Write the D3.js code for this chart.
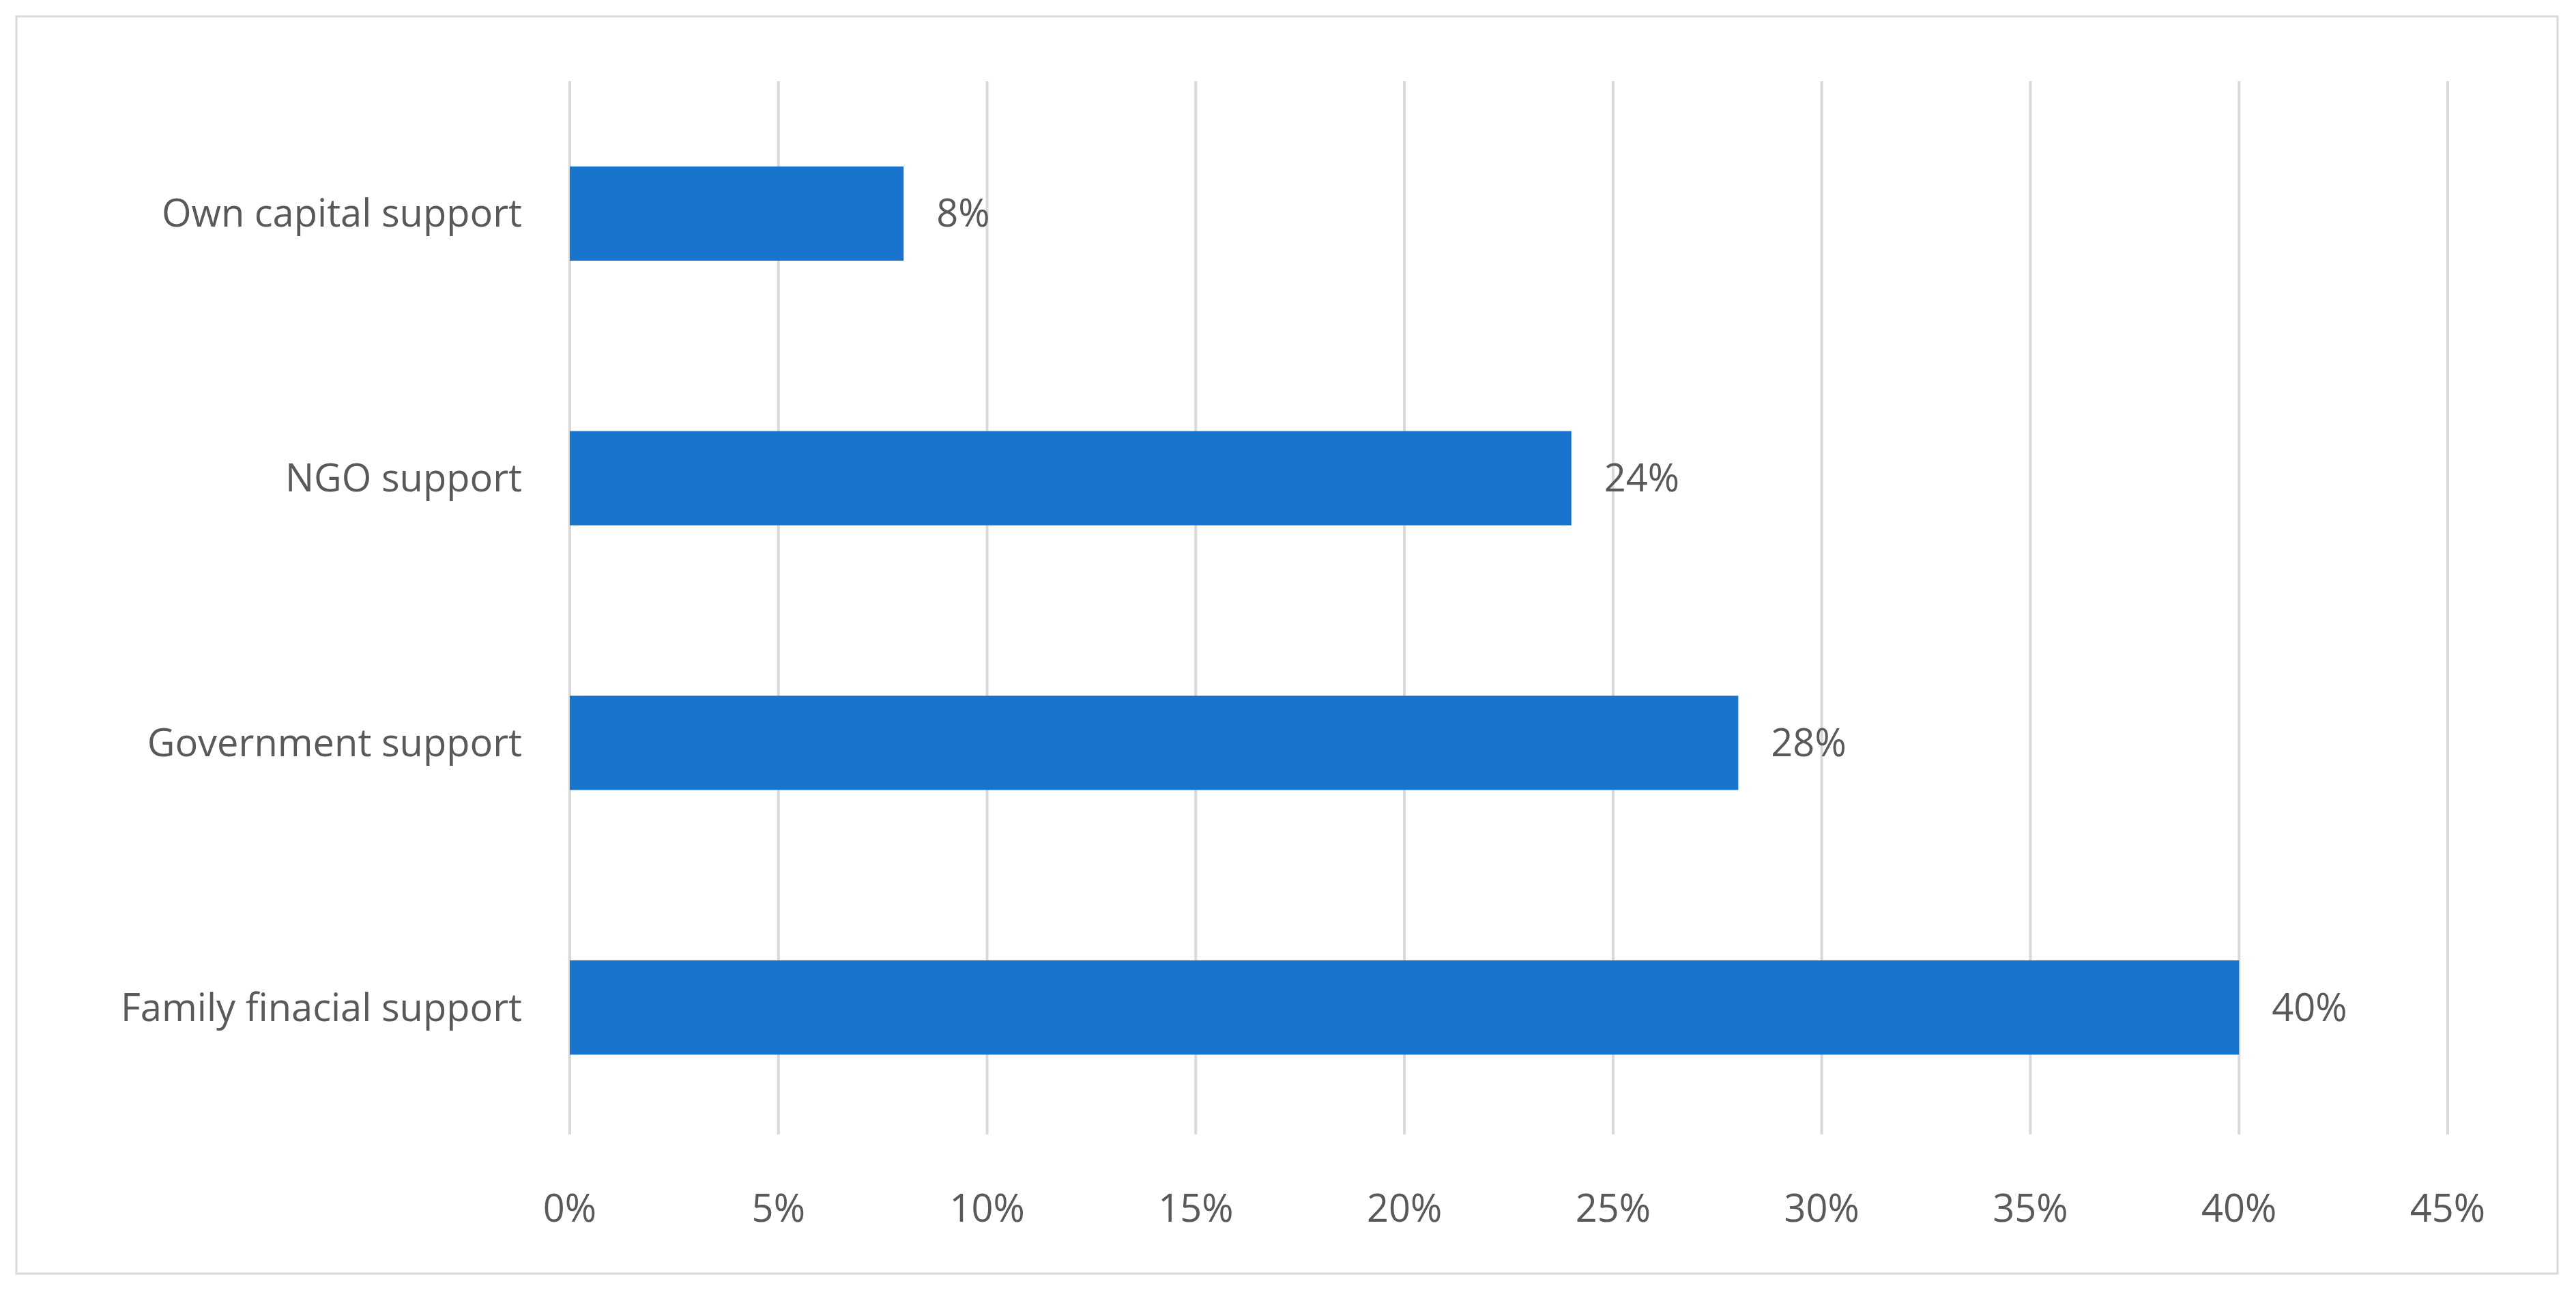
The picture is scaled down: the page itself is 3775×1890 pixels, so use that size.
<!DOCTYPE html>
<html><head><meta charset="utf-8">
<script src="https://cdn.jsdelivr.net/npm/d3@7"></script>
<style>body{margin:0;background:#fff}</style>
</head><body>
<script>
const categories = ["Own capital support", "NGO support", "Government support", "Family finacial support"];
const values = [8, 24, 28, 40];
const ticks = [0, 5, 10, 15, 20, 25, 30, 35, 40, 45];

const W = 3775, H = 1890;
const svg = d3.select("body").append("svg").attr("width", W).attr("height", H)
  .style("font-family", "'Open Sans', 'Noto Sans', sans-serif");

svg.append("rect").attr("x", 24).attr("y", 24).attr("width", 3724).attr("height", 1842)
  .attr("fill", "#fff").attr("stroke", "#d9d9d9").attr("stroke-width", 3);

const x = d3.scaleLinear().domain([0, 45]).range([835, 3587]);
const y = d3.scaleBand().domain(categories).range([119, 1670]).paddingInner(0.644).paddingOuter(0.322);

// gridlines
svg.append("g").selectAll("line").data(ticks).join("line")
  .attr("x1", d => x(d)).attr("x2", d => x(d))
  .attr("y1", 119).attr("y2", 1662)
  .attr("stroke", "#d9d9d9").attr("stroke-width", 4);

// bars
svg.append("g").selectAll("rect").data(values).join("rect")
  .attr("x", x(0)).attr("y", (d, i) => y(categories[i]))
  .attr("width", d => x(d) - x(0)).attr("height", y.bandwidth())
  .attr("fill", "#1874cd");

// value labels
svg.append("g").selectAll("text").data(values).join("text")
  .attr("x", d => x(d) + 48).attr("y", (d, i) => y(categories[i]) + y.bandwidth() / 2)
  .attr("dy", "0.35em").attr("font-size", 56).attr("fill", "#595959")
  .text(d => d + "%");

// category labels
svg.append("g").selectAll("text").data(categories).join("text")
  .attr("x", 765).attr("y", d => y(d) + y.bandwidth() / 2)
  .attr("dy", "0.35em").attr("text-anchor", "end").attr("font-size", 56).attr("fill", "#595959")
  .text(d => d);

// x tick labels
svg.append("g").selectAll("text").data(ticks).join("text")
  .attr("x", d => x(d)).attr("y", 1770).attr("dy", "0.35em")
  .attr("text-anchor", "middle").attr("font-size", 56).attr("fill", "#595959")
  .text(d => d + "%");
</script>
</body></html>
